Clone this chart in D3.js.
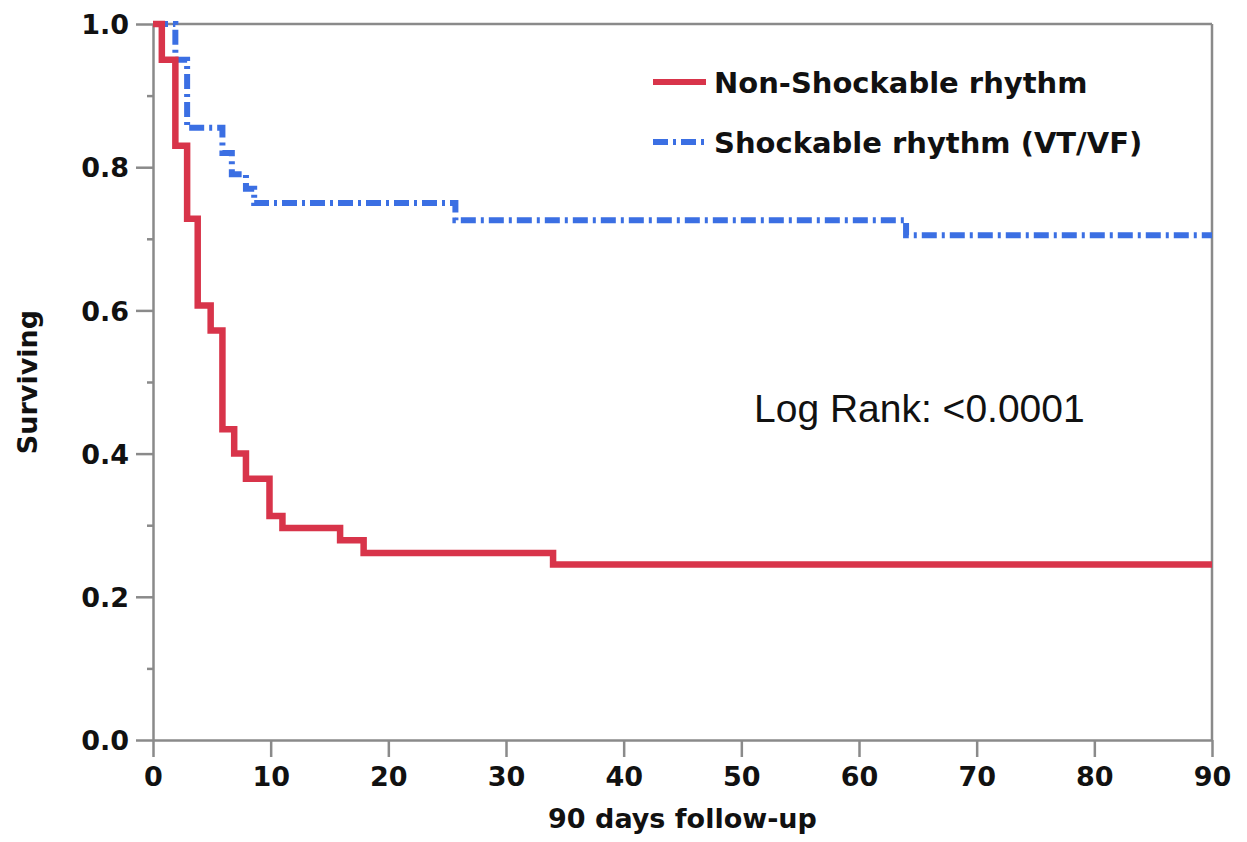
<!DOCTYPE html>
<meta charset="utf-8">
<script src="https://d3js.org/d3.v7.min.js"></script>
<style>
  body { margin: 0; background: #fff; }
</style>
<div id="my_dataviz"></div>
<script>
// Kaplan-Meier steps: time (days) where the step starts, survival after it
var nonShockDays = [0, 0.75, 1.9, 2.9, 3.8, 4.9, 5.9, 6.9, 7.9, 9.9, 11.0, 15.9, 17.9, 34.0, 90];
var nonShockSurv = [1.0, 0.95, 0.83, 0.728, 0.607, 0.572, 0.434, 0.40, 0.365, 0.313, 0.296, 0.279, 0.261, 0.245, 0.245];
var shockDays = [0, 1.9, 2.9, 5.9, 6.7, 7.9, 8.6, 25.7, 64.0, 90];
var shockSurv = [1.0, 0.95, 0.855, 0.82, 0.79, 0.77, 0.75, 0.726, 0.705, 0.705];
var seriesNames = ["Non-Shockable rhythm", "Shockable rhythm (VT/VF)"];
var xTicks = [0, 10, 20, 30, 40, 50, 60, 70, 80, 90];
var yTicks = [0.0, 0.2, 0.4, 0.6, 0.8, 1.0];
var yMinorTicks = [0.1, 0.3, 0.5, 0.7, 0.9];
var annotation = "Log Rank: <0.0001";

var margin = {top: 24, right: 35, bottom: 102, left: 153},
    width = 1247 - margin.left - margin.right,
    height = 842 - margin.top - margin.bottom;

var red = "#d8344a", blue = "#3b6fe3", axisGrey = "#8a8a8a";
var boldFont = "'DejaVu Sans', sans-serif";

var svg = d3.select("#my_dataviz")
  .append("svg")
    .attr("width", 1247)
    .attr("height", 842)
  .append("g")
    .attr("transform", "translate(" + margin.left + "," + margin.top + ")");

var x = d3.scaleLinear().domain([0, 90]).range([0, width]);
var y = d3.scaleLinear().domain([0, 1]).range([height, 0]);

// minor y ticks
svg.append("g")
  .call(d3.axisLeft(y).tickValues(yMinorTicks).tickSize(6).tickSizeOuter(0).tickFormat(""))
  .call(g => g.select(".domain").remove());

// y axis
var yAxis = svg.append("g")
  .call(d3.axisLeft(y).tickValues(yTicks).tickSize(17).tickSizeOuter(0).tickPadding(7).tickFormat(d3.format(".1f")));

// x axis
var xAxis = svg.append("g")
  .attr("transform", "translate(0," + height + ")")
  .call(d3.axisBottom(x).tickValues(xTicks).tickSize(17).tickSizeOuter(0).tickPadding(10));

svg.selectAll(".tick line").attr("stroke", axisGrey).attr("stroke-width", 2.5);
svg.selectAll(".domain").attr("stroke", axisGrey).attr("stroke-width", 2.5);
svg.selectAll(".tick text")
  .style("font-family", boldFont)
  .style("font-weight", "bold")
  .style("font-size", "27px")
  .attr("fill", "#111");
yAxis.selectAll(".tick text").attr("dy", "0.36em");
xAxis.selectAll(".tick text").attr("dy", "0.72em");

// frame: top and right
svg.append("line")
  .attr("x1", 0).attr("x2", width).attr("y1", 0).attr("y2", 0)
  .attr("stroke", axisGrey).attr("stroke-width", 2.5);
svg.append("line")
  .attr("x1", width).attr("x2", width).attr("y1", 0).attr("y2", height)
  .attr("stroke", axisGrey).attr("stroke-width", 2.5);

// curves
var line = d3.line()
  .curve(d3.curveStepAfter)
  .x(function(d) { return x(d[0]); })
  .y(function(d) { return y(d[1]); });

svg.append("path")
  .datum(d3.zip(shockDays, shockSurv))
  .attr("fill", "none")
  .attr("stroke", blue)
  .attr("stroke-width", 6)
  .attr("stroke-dasharray", "15,5,3,5")
  .attr("d", line);

svg.append("path")
  .datum(d3.zip(nonShockDays, nonShockSurv))
  .attr("fill", "none")
  .attr("stroke", red)
  .attr("stroke-width", 6.5)
  .attr("d", line);

// axis labels
svg.append("text")
  .attr("text-anchor", "middle")
  .attr("x", width / 2)
  .attr("y", height + 88)
  .style("font-family", boldFont)
  .style("font-weight", "bold")
  .style("font-size", "27px")
  .attr("fill", "#111")
  .text("90 days follow-up");

svg.append("text")
  .attr("text-anchor", "middle")
  .attr("transform", "rotate(-90)")
  .attr("x", -height / 2)
  .attr("y", -116)
  .style("font-family", boldFont)
  .style("font-weight", "bold")
  .style("font-size", "27px")
  .attr("fill", "#111")
  .text("Surviving");

// legend
var legendColors = [red, blue];
var legendDash = [null, "15,5,3,5"];
var legend = svg.selectAll("myLegend")
  .data(seriesNames)
  .enter()
  .append("g")
    .attr("transform", function(d, i) { return "translate(" + (653 - margin.left) + "," + (82 - margin.top + i * 60) + ")"; });
legend.append("line")
  .attr("x1", 0).attr("x2", 53).attr("y1", 0).attr("y2", 0)
  .attr("stroke", function(d, i) { return legendColors[i]; })
  .attr("stroke-width", 6)
  .attr("stroke-dasharray", function(d, i) { return legendDash[i]; });
legend.append("text")
  .attr("x", 61)
  .attr("y", 11)
  .style("font-family", boldFont)
  .style("font-weight", "bold")
  .style("font-size", "29px")
  .attr("fill", "#111")
  .text(function(d) { return d; });

// log rank annotation
svg.append("text")
  .attr("x", 754 - margin.left)
  .attr("y", 422 - margin.top)
  .style("font-family", "'Liberation Sans', Arial, sans-serif")
  .style("font-size", "39px")
  .attr("fill", "#111")
  .text(annotation);
</script>
